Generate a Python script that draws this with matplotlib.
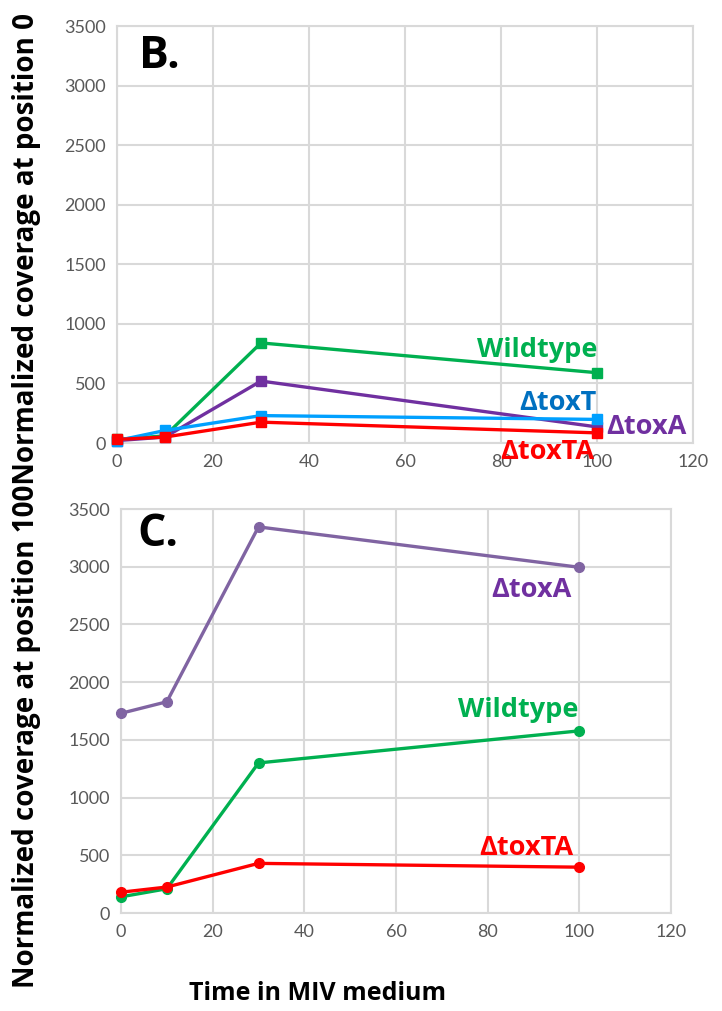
import numpy as np
import matplotlib
matplotlib.use('Agg')
import matplotlib.pyplot as plt

plt.rcParams['font.family'] = ['Lato', 'DejaVu Sans']

# time points (minutes in MIV medium)
time = [0, 10, 30, 100]

# panel B - coverage at position 0
b_wildtype = [30, 60, 840, 590]
b_toxA = [20, 50, 520, 135]
b_toxT = [20, 105, 230, 198]
b_toxTA = [30, 50, 175, 85]

# panel C - coverage at position 100
c_toxA = [1730, 1830, 3345, 2995]
c_wildtype = [140, 210, 1300, 1578]
c_toxTA = [180, 225, 430, 397]

xticks = [0, 20, 40, 60, 80, 100, 120]
yticks = [0, 500, 1000, 1500, 2000, 2500, 3000, 3500]

green = '#00B050'
purple = '#7030A0'
purple_c = '#8064A2'
blue = '#00A0FF'
blue_txt = '#0070C0'
red = '#FF0000'
grid_c = '#D9D9D9'
tick_c = '#595959'
bold_font = ['Open Sans', 'DejaVu Sans']

W, H = 722, 1011
fig = plt.figure(figsize=(W / 100, H / 100), dpi=100)

def make_ax(l, r, t, b):
    ax = fig.add_axes([l / W, 1 - b / H, (r - l) / W, (b - t) / H])
    ax.set_xlim(0, 120)
    ax.set_ylim(0, 3500)
    ax.set_xticks(xticks)
    ax.set_yticks(yticks)
    ax.grid(True, color=grid_c, lw=1.5)
    ax.set_axisbelow(True)
    for s in ax.spines.values():
        s.set_color(grid_c)
        s.set_linewidth(1.5)
    ax.tick_params(length=0, colors=tick_c, labelsize=13, pad=8)
    return ax

lab = dict(fontsize=19.5, fontweight='bold', va='center', clip_on=False, family=bold_font, zorder=5)

# panel B
axB = make_ax(117, 693, 26, 443)
for vals, col in [(b_wildtype, green), (b_toxA, purple), (b_toxT, blue), (b_toxTA, red)]:
    axB.plot(time, vals, color=col, lw=2.4, marker='s', ms=7, clip_on=False, zorder=3)
axB.text(4.5, 3245, 'B.', fontsize=32, fontweight='bold', va='center', family=bold_font)
axB.text(100, 780, 'Wildtype', color=green, ha='right', **lab)
axB.text(100, 336, 'ΔtoxT', color=blue_txt, ha='right', **lab)
axB.text(102, 134, 'ΔtoxA', color=purple, ha='left', **lab)
axB.text(99.5, -75, 'ΔtoxTA', color=red, ha='right', **lab)

# panel C
axC = make_ax(121, 671, 509, 913)
for vals, col in [(c_toxA, purple_c), (c_wildtype, green), (c_toxTA, red)]:
    axC.plot(time, vals, color=col, lw=2.4, marker='o', ms=7, clip_on=False, zorder=3)
axC.text(3.5, 3280, 'C.', fontsize=32, fontweight='bold', va='center', family=bold_font)
axC.text(98.4, 2800, 'ΔtoxA', color=purple, ha='right', **lab)
axC.text(99.7, 1760, 'Wildtype', color=green, ha='right', **lab)
axC.text(98.6, 563, 'ΔtoxTA', color=red, ha='right', **lab)

fig.text(27 / W, 1 - 988 / H, 'Normalized coverage at position 100Normalized coverage at position 0',
         rotation=90, ha='center', va='bottom', fontsize=20, fontweight='bold', family=bold_font)
fig.text(318 / W, 1 - 993 / H, 'Time in MIV medium', ha='center', va='center',
         fontsize=18, fontweight='bold', family=bold_font)

fig.savefig('out.png', dpi=100, facecolor='white')
